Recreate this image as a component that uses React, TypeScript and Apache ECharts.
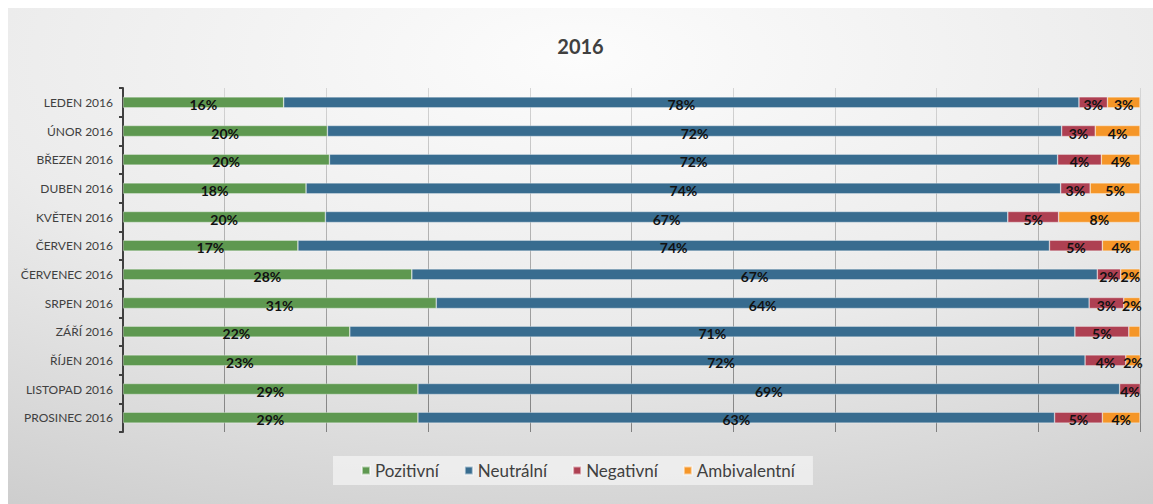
import React, { useEffect, useRef } from "react";
import * as echarts from "echarts";

const categories = [
  "LEDEN 2016",
  "ÚNOR 2016",
  "BŘEZEN 2016",
  "DUBEN 2016",
  "KVĚTEN 2016",
  "ČERVEN 2016",
  "ČERVENEC 2016",
  "SRPEN 2016",
  "ZÁŘÍ 2016",
  "ŘÍJEN 2016",
  "LISTOPAD 2016",
  "PROSINEC 2016",
];

// shares in % (labels show them rounded)
const pozitivni = [15.8, 20.1, 20.3, 18.0, 19.9, 17.2, 28.4, 30.8, 22.3, 23.0, 29.0, 29.0];
const neutralni = [78.2, 72.2, 71.6, 74.2, 67.1, 73.9, 67.4, 64.2, 71.3, 71.6, 69.0, 62.6];
const negativni = [2.8, 3.3, 4.3, 2.9, 5.0, 5.2, 2.3, 3.4, 5.3, 4.0, 3.6, 4.7];
const ambivalentni = [3.2, 4.4, 3.8, 4.9, 8.0, 3.7, 1.9, 1.6, 1.1, 1.5, 0, 3.7];
// Září's orange segment carries no label in the reference
const ambivalentniLabelShown = [true, true, true, true, true, true, true, true, false, true, true, true];

const seriesNames = ["Pozitivní", "Neutrální", "Negativní", "Ambivalentní"];
const seriesColors = ["#5e9850", "#386c8f", "#ae4052", "#f59628"];

const FONT = "Lato, 'Open Sans', sans-serif";

export default function App() {
  const ref = useRef<HTMLDivElement>(null);

  useEffect(() => {
    if (!ref.current) return;
    const chart = echarts.init(ref.current, undefined, { renderer: "svg" });

    const mkLabel = () => ({
      show: true,
      position: "inside",
      formatter: (p: any) => (p.value ? Math.round(p.value) + "%" : ""),
      fontFamily: FONT,
      fontSize: 14,
      fontWeight: "bold",
      color: "#111111",
      offset: [0, 2],
    });

    const dataSets = [
      pozitivni,
      neutralni,
      negativni,
      ambivalentni.map((v, i) =>
        ambivalentniLabelShown[i] ? v : { value: v, label: { show: false } }
      ),
    ];

    const series = dataSets.map((d, i) => ({
      name: seriesNames[i],
      type: "bar",
      stack: "total",
      data: d,
      barWidth: 11,
      itemStyle: {
        color: seriesColors[i],
        borderColor: "rgba(255,255,255,0.55)",
        borderWidth: 0.6,
      },
      label: mkLabel(),
    }));

    chart.setOption({
      animation: false,
      textStyle: { fontFamily: FONT },
      graphic: [
        {
          type: "rect",
          z: -100,
          silent: true,
          shape: { x: 0, y: 0, width: 1145, height: 496 },
          style: {
            fill: new echarts.graphic.RadialGradient(0.5, 0.1, 1.35, [
              { offset: 0, color: "#fcfcfc" },
              { offset: 0.4, color: "#ebebeb" },
              { offset: 0.82, color: "#c9c9c9" },
              { offset: 1, color: "#c0c0c0" },
            ]),
          },
        },
      ],
      title: {
        text: "2016",
        left: "center",
        top: 23,
        textStyle: {
          fontFamily: FONT,
          fontSize: 20,
          fontWeight: "bold",
          color: "#404040",
        },
      },
      legend: {
        bottom: 19,
        left: 325,
        data: seriesNames,
        icon: "rect",
        itemWidth: 8,
        itemHeight: 8,
        itemGap: 25,
        backgroundColor: "rgba(240,240,240,0.85)",
        padding: [6, 18, 6, 28],
        textStyle: {
          fontFamily: FONT,
          fontSize: 17,
          color: "#404040",
        },
      },
      grid: {
        left: 115,
        right: 13,
        top: 80,
        bottom: 72,
        containLabel: false,
      },
      xAxis: {
        type: "value",
        min: 0,
        max: 100,
        interval: 10,
        axisLabel: { show: false },
        axisLine: { show: false },
        axisTick: { show: false },
        splitLine: {
          show: true,
          lineStyle: {
            width: 1,
            color: new echarts.graphic.LinearGradient(
              0, 80, 0, 424,
              [
                { offset: 0, color: "#d6d6d6" },
                { offset: 1, color: "#808080" },
              ],
              true
            ),
          },
        },
      },
      yAxis: {
        type: "category",
        inverse: true,
        data: categories,
        axisLine: { show: true, lineStyle: { color: "#404040", width: 2 } },
        axisTick: { show: true, length: 4, lineStyle: { color: "#404040", width: 2 } },
        axisLabel: {
          fontFamily: FONT,
          fontSize: 12,
          color: "#404040",
          margin: 10,
        },
      },
      series,
    });

    return () => chart.dispose();
  }, []);

  return (
    <div
      ref={ref}
      style={{ position: "absolute", left: 8, top: 8, width: 1145, height: 496 }}
    />
  );
}
